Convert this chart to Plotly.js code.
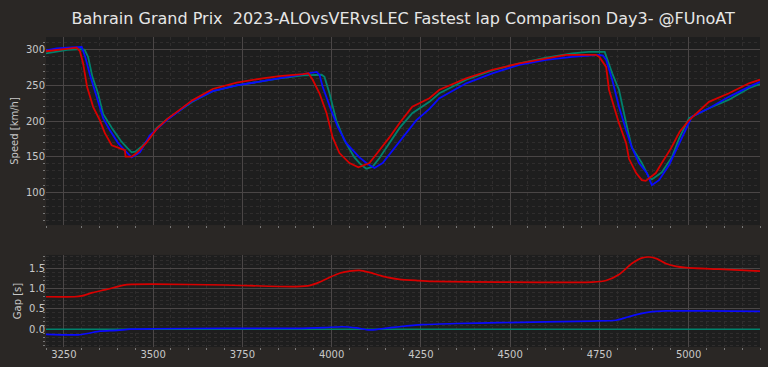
<!DOCTYPE html>
<html>
<head>
<meta charset="utf-8">
<script src="https://cdn.plot.ly/plotly-3.0.1.min.js"></script>
<style>html,body{margin:0;padding:0;background:#2a2725;}#chart{width:768px;height:367px;}</style>
</head>
<body>
<div id="chart"></div>
<script>
// ---- Data ----
const titleText = "Bahrain Grand Prix  2023-ALOvsVERvsLEC Fastest lap Comparison Day3- @FUnoAT";
const drivers = ["ALO", "VER", "LEC"];

const aloDist  = [3200,3230,3260,3300,3308,3318,3330,3345,3360,3385,3410,3428,3440,3450,3470,3490,3510,3540,3575,3610,3667,3734,3807,3854,3920,3972,3980,3994,4013,4036,4064,4080,4097,4115,4134,4162,4190,4226,4274,4302,4377,4450,4526,4601,4674,4720,4765,4786,4805,4825,4841,4869,4889,4897,4925,4953,4973,5001,5057,5113,5169,5200];
const aloSpeed = [295,298,300,301,300,290,262,240,210,190,172,162,156,157,165,176,190,203,215,227,242,250,256,260,264,265,262,239,201,173,149,140,133,136,148,169,190,211,227,239,258,271,281,289,295,297,297,267,244,197,163,141,121,118,128,149,175,204,218,230,246,252];
const aloGapDist = [3200, 5200];
const aloGap     = [0, 0];

const verDist  = [3200,3230,3260,3300,3310,3323,3342,3360,3379,3402,3426,3440,3463,3491,3538,3575,3610,3667,3734,3807,3854,3920,3958,3966,3975,3999,4017,4041,4078,4100,4120,4143,4171,4199,4237,4274,4302,4377,4450,4526,4601,4674,4749,4760,4769,4786,4805,4825,4841,4861,4883,4897,4917,4945,4973,5009,5057,5113,5169,5200];
const verSpeed = [299,302,303,304,290,265,234,204,187,169,156,149,156,180,201,215,228,242,250,256,260,265,269,265,248,215,192,169,149,140,134,141,159,177,201,217,232,253,267,279,286,290,293,292,286,258,220,187,163,141,127,110,117,138,168,206,218,234,248,255];
const verGapDist = [3200,3290,3320,3351,3400,3435,3500,3700,3900,3980,4030,4070,4106,4140,4190,4254,4350,4470,4730,4797,4830,4860,4889,4936,5050,5200];
const verGap     = [-0.13,-0.14,-0.10,-0.05,-0.03,0.00,0.01,0.02,0.02,0.04,0.06,0.03,-0.02,0.01,0.06,0.11,0.14,0.16,0.20,0.22,0.30,0.37,0.42,0.45,0.45,0.44];

const lecDist  = [3200,3230,3260,3286,3295,3304,3315,3332,3351,3365,3384,3421,3423,3440,3454,3482,3510,3540,3575,3610,3667,3734,3807,3854,3920,3935,3947,3966,3986,4003,4022,4050,4075,4106,4134,4162,4190,4226,4274,4302,4377,4450,4526,4601,4657,4740,4750,4769,4777,4791,4805,4825,4833,4853,4869,4880,4908,4925,4951,4975,5001,5057,5113,5169,5200];
const lecSpeed = [298,300,302,303,298,281,248,220,201,183,166,159,150,150,155,170,189,203,216,229,245,254,260,263,266,267,258,239,211,177,155,141,135,141,159,177,197,220,232,244,260,272,281,288,293,293,290,276,244,220,197,169,147,127,117,116,127,141,162,185,201,227,239,253,258];
const lecGapDist = [3200,3280,3300,3330,3370,3400,3426,3500,3700,3900,3940,3966,3995,4022,4050,4078,4106,4134,4160,4190,4240,4282,4470,4730,4769,4805,4841,4870,4890,4910,4936,4965,4992,5085,5200];
const lecGap     = [0.80,0.80,0.82,0.90,0.98,1.05,1.10,1.11,1.09,1.05,1.08,1.16,1.28,1.38,1.43,1.45,1.40,1.33,1.27,1.23,1.20,1.18,1.16,1.16,1.20,1.35,1.62,1.76,1.78,1.74,1.62,1.55,1.52,1.48,1.43];

// ---- Styling ----
const colors = {ALO: "#00826d", VER: "#0a0aff", LEC: "#d80000"};
const gridMajor = "#4a4646";
const gridMinor = "#2f2d2d";
const tickFont = {family: "DejaVu Sans", size: 10, color: "#c8c8c8"};

const traces = [
  {x: aloDist, y: aloSpeed, name: "ALO", mode: "lines", line: {color: colors.ALO, width: 1.8}, xaxis: "x", yaxis: "y"},
  {x: verDist, y: verSpeed, name: "VER", mode: "lines", line: {color: colors.VER, width: 1.8}, xaxis: "x", yaxis: "y"},
  {x: lecDist, y: lecSpeed, name: "LEC", mode: "lines", line: {color: colors.LEC, width: 1.8}, xaxis: "x", yaxis: "y"},
  {x: aloGapDist, y: aloGap, name: "ALO", mode: "lines", line: {color: colors.ALO, width: 1.5}, xaxis: "x2", yaxis: "y2"},
  {x: verGapDist, y: verGap, name: "VER", mode: "lines", line: {color: colors.VER, width: 1.7, shape: "spline", smoothing: 0.6}, xaxis: "x2", yaxis: "y2"},
  {x: lecGapDist, y: lecGap, name: "LEC", mode: "lines", line: {color: colors.LEC, width: 1.7, shape: "spline", smoothing: 0.6}, xaxis: "x2", yaxis: "y2"}
];

function xAxis(showLabels, anchor) {
  return {
    range: [3200, 5200], anchor: anchor, dtick: 250, tick0: 3250,
    showticklabels: showLabels, tickfont: tickFont,
    showgrid: true, gridcolor: gridMajor, gridwidth: 1,
    zeroline: false, showline: false,
    ticks: "",
    minor: {dtick: 50, tick0: 3200, showgrid: true, gridcolor: gridMinor, griddash: "dot", gridwidth: 1, ticks: "outside", ticklen: 2, tickcolor: "#777"}
  };
}

const layout = {
  width: 768, height: 367,
  paper_bgcolor: "#2a2725", plot_bgcolor: "#1e1e1e",
  margin: {l: 46, r: 8, t: 37, b: 20},
  showlegend: false,
  title: {text: titleText, font: {family: "DejaVu Sans", size: 16, color: "#e6e6e6"}, x: 0.525, xanchor: "center", y: 0.95, yanchor: "middle"},
  xaxis: Object.assign(xAxis(false, "y"), {matches: "x2"}),
  xaxis2: xAxis(true, "y2"),
  yaxis: {
    domain: [0.3935, 1], range: [54, 318], dtick: 50, tick0: 0,
    tickfont: tickFont, showgrid: true, gridcolor: gridMajor, zeroline: false,
    ticks: "",
    title: {text: "Speed [km/h]", font: {family: "DejaVu Sans", size: 10, color: "#c8c8c8"}, standoff: 5},
    minor: {dtick: 10, showgrid: true, gridcolor: gridMinor, griddash: "dot", ticks: "outside", ticklen: 2, tickcolor: "#777"}
  },
  yaxis2: {
    domain: [0, 0.2968], range: [-0.44, 1.83], dtick: 0.5, tick0: 0,
    tickformat: ".1f",
    tickfont: tickFont, showgrid: true, gridcolor: gridMajor, zeroline: false,
    ticks: "",
    title: {text: "Gap [s]", font: {family: "DejaVu Sans", size: 10, color: "#c8c8c8"}, standoff: 5},
    minor: {dtick: 0.1, showgrid: true, gridcolor: gridMinor, griddash: "dot", ticks: "outside", ticklen: 2, tickcolor: "#777"}
  }
};

Plotly.newPlot("chart", traces, layout, {displayModeBar: false, staticPlot: true});
</script>
</body>
</html>
